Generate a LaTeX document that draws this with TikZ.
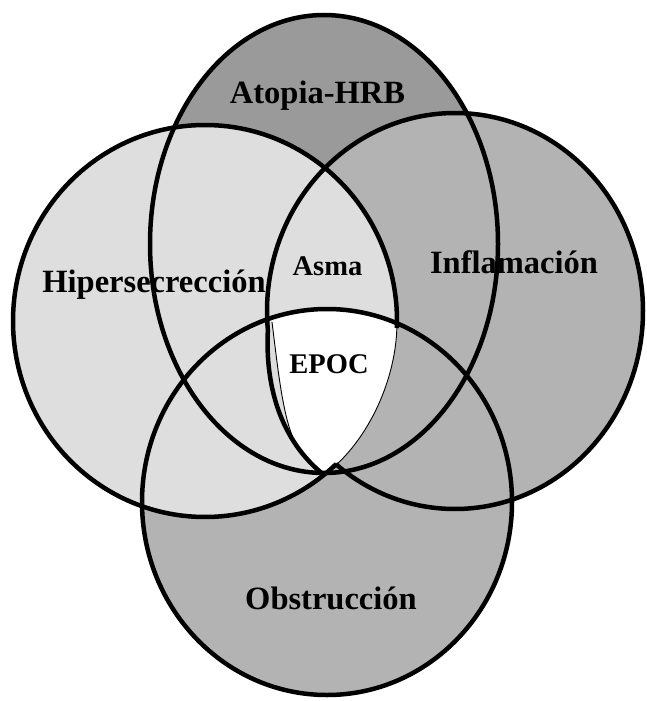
\documentclass[tikz,border=0pt]{standalone}
\usepackage{fontspec}
\setmainfont{Liberation Serif}[Ligatures=NoCommon]
\usetikzlibrary{calc}
\definecolor{atopgray}{HTML}{9A9A9A}
\definecolor{midgray}{HTML}{B3B3B3}
\definecolor{lightgray}{HTML}{DEDEDE}
\begin{document}
\begin{tikzpicture}[x=1pt,y=-1pt,
  ring/.style={line width=4.5pt},
  hair/.style={line width=0.9pt},
  biglbl/.style={font=\bfseries\fontsize{32.5}{36}\selectfont, inner sep=0pt, anchor=base},
  smalllbl/.style={font=\bfseries\fontsize{28.5}{32}\selectfont, inner sep=0pt, anchor=base}]
\useasboundingbox (0,0) rectangle (646,701);

% centres of the four sets
\coordinate (cT) at (324,244);
\coordinate (cL) at (205,321);
\coordinate (cR) at (455,311);
\coordinate (cB) at (327,502);

\tikzset{
  shapeT/.style={x radius=174pt, y radius=229pt},
  shapeL/.style={x radius=192pt, y radius=196pt},
  shapeR/.style={x radius=188pt, y radius=198pt},
  shapeB/.style={x radius=185pt, y radius=193pt}}

% fixed points of the EPOC patch
\coordinate (rimtop)  at ($(cR)+(185.5:188pt and 198pt)$);
\coordinate (rimmid)  at (296.3,445.1);
\coordinate (rimtip)  at (324,475);
\coordinate (seamtop) at (272,322);
\coordinate (edgetop) at ($(cL)+(-2.05:192pt and 196pt)$);

% fills, back to front
\fill[atopgray]  (cT) ellipse [shapeT];
\fill[midgray]   (cB) ellipse [shapeB];
\fill[midgray]   (cR) ellipse [shapeR];
\fill[lightgray] (cL) ellipse [shapeL];

% white EPOC patch
\begin{scope}
  \clip (cB) ellipse [shapeB];
  \fill[white] (272,300) -- (seamtop)
    .. controls (278,370) and (283,420) .. (rimmid)
    .. controls (303.8,456.25) and (313,466.25) .. (rimtip)
    .. controls (365,445) and (395,385) .. (edgetop)
    -- (399,300) -- cycle;
\end{scope}

% outlines
\draw[ring] (cT) ellipse [shapeT];
\draw[ring] (cB) ellipse [shapeB];
% left set: heavy everywhere but the lower right edge of the patch
\draw[ring] (edgetop)
  arc [start angle=-2.05, end angle=313.15, shapeL];
% right set: its lower left edge is replaced by the rim below
\draw[ring] ($(cR)+(230.6:188pt and 198pt)$)
  arc [start angle=230.6, end angle=545.5, shapeR];
% edges of the patch
\draw[ring] (rimtop) .. controls (265,385) and (280,440) .. (rimtip);
\draw[hair] (seamtop) .. controls (278,370) and (283,420) .. (rimmid);
\draw[hair] (edgetop) .. controls (395,385) and (365,445) .. (rimtip);

% labels
\node[biglbl]   (atopia) at (317.5,103) {Atopia-HRB};
\node[biglbl]   (hiper)  at (154,292)   {Hipersecrección};
\node[smalllbl] (asma)   at (327.5,275) {Asma};
\node[biglbl]   (infla)  at (514,273)   {Inflamación};
\node[smalllbl] (epoc)   at (329,373)   {EPOC};
\node[biglbl]   (obst)   at (331,609)   {Obstrucción};
\end{tikzpicture}
\end{document}
